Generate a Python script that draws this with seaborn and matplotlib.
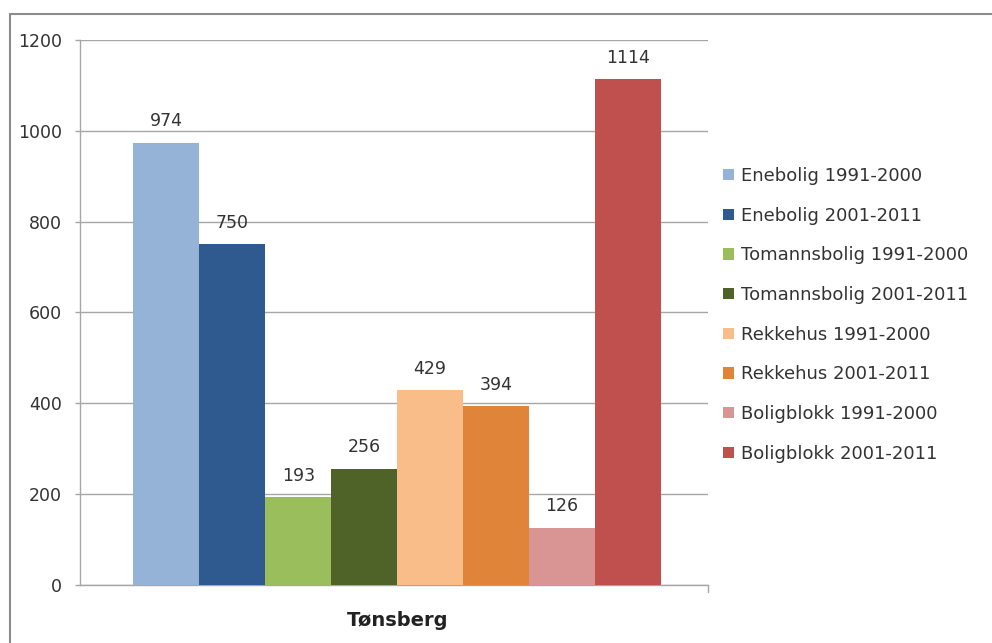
import matplotlib
matplotlib.use("Agg")
import matplotlib.pyplot as plt
from matplotlib.lines import Line2D
import seaborn as sns
import pandas as pd

# Completed dwellings by type and period
place = ["Tønsberg"]
series = [
    "Enebolig 1991-2000",
    "Enebolig 2001-2011",
    "Tomannsbolig 1991-2000",
    "Tomannsbolig 2001-2011",
    "Rekkehus 1991-2000",
    "Rekkehus 2001-2011",
    "Boligblokk 1991-2000",
    "Boligblokk 2001-2011",
]
values = [974, 750, 193, 256, 429, 394, 126, 1114]
colors = ["#95B3D7", "#2F5A90", "#9BBE5C", "#4F6228",
          "#F9BD8A", "#DF8438", "#D99594", "#C0504D"]
yticks = [0, 200, 400, 600, 800, 1000, 1200]

df = pd.DataFrame({"sted": place * len(series), "serie": series, "antall": values})

sns.set_theme(style="white")
plt.rcParams["font.family"] = ["DejaVu Sans"]

fig = plt.figure(figsize=(9.92, 6.43), dpi=100)
ax = fig.add_axes([80 / 992, 1 - 585 / 643, 628 / 992, 545 / 643])

sns.barplot(data=df, x="sted", y="antall", hue="serie", hue_order=series,
            palette=colors, width=0.84, gap=0, saturation=1, ax=ax,
            legend=True, zorder=3, errorbar=None, linewidth=0)

for cont in ax.containers:
    ax.bar_label(cont, fmt="%d", padding=9, fontsize=12.5, color="#333333")

ax.set_ylim(0, 1200)
ax.set_xlim(-0.505, 0.495)
ax.set_yticks(yticks)
ax.set_yticklabels([str(t) for t in yticks], fontsize=12.5, color="#333333")
ax.yaxis.grid(True, color="#A6A6A6", linewidth=1, zorder=0)
ax.set_axisbelow(True)
ax.tick_params(axis="y", length=3.6, color="#A6A6A6", width=1, pad=9.4, left=True)
ax.tick_params(axis="x", length=0, pad=19)
ax.set_xticks([0])
ax.set_xticklabels(place, fontsize=14, fontweight="bold", color="#222222")
ax.set_xlabel("")
ax.set_ylabel("")
for side in ["top", "right"]:
    ax.spines[side].set_visible(False)
for side in ["left", "bottom"]:
    ax.spines[side].set_color("#A6A6A6")
    ax.spines[side].set_linewidth(1)

# short vertical tick at the right end of the category axis
ax.plot([1, 1], [0, -0.012], transform=ax.transAxes, color="#A6A6A6",
        lw=1, clip_on=False)

leg = ax.legend(loc="upper left", bbox_to_anchor=(723 / 992, 1 - 167 / 643),
                bbox_transform=fig.transFigure, frameon=False, fontsize=13,
                handlelength=0.6, handleheight=0.6, handletextpad=0.42,
                labelspacing=1.2, borderpad=0, borderaxespad=0)
for t in leg.get_texts():
    t.set_color("#333333")

# chart frame (top and left edges)
fig.add_artist(Line2D([10 / 992, 10 / 992], [0, 1 - 14 / 643],
                      transform=fig.transFigure, color="#8C8C8C", lw=1.5))
fig.add_artist(Line2D([10 / 992, 1], [1 - 14 / 643, 1 - 14 / 643],
                      transform=fig.transFigure, color="#8C8C8C", lw=1.5))

fig.savefig("out.png", dpi=100, facecolor="white")
